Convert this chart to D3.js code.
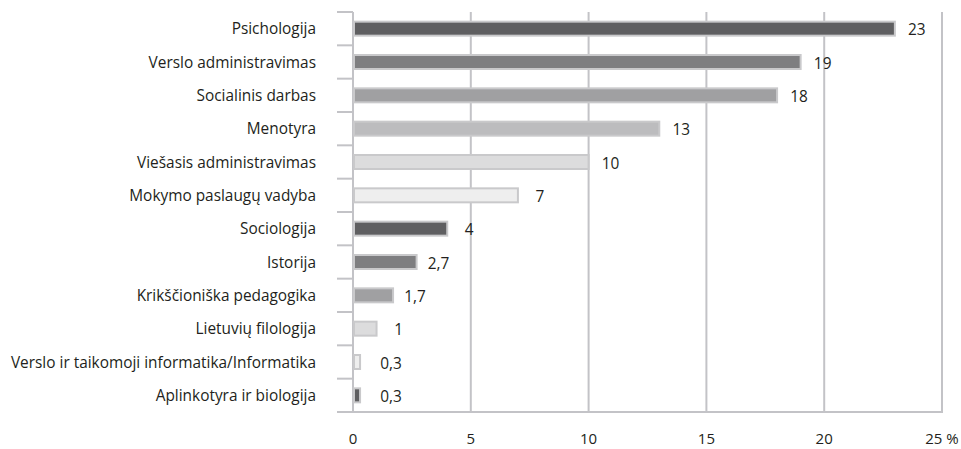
<!DOCTYPE html>
<html><head><meta charset="utf-8">
<script src="https://cdn.jsdelivr.net/npm/d3@7"></script>
<style>body{margin:0;background:#fff}svg{display:block}text{font-family:"Open Sans",sans-serif;fill:#231f20}</style>
</head><body><svg id="c" width="961" height="449"></svg>
<script>
const categories = ["Psichologija","Verslo administravimas","Socialinis darbas","Menotyra","Viešasis administravimas","Mokymo paslaugų vadyba","Sociologija","Istorija","Krikščioniška pedagogika","Lietuvių filologija","Verslo ir taikomoji informatika/Informatika","Aplinkotyra ir biologija"];
const values = [23,19,18,13,10,7,4,2.7,1.7,1,0.3,0.3];
const valueLabels = ["23","19","18","13","10","7","4","2,7","1,7","1","0,3","0,3"];
const barColors = ["#5f5f61","#7e7e80","#a0a0a2","#bcbcbe","#dcdcdd","#eeeeee","#5f5f61","#7e7e80","#a0a0a2","#dcdcdd","#eeeeee","#5f5f61"];
const xTicks = [0,5,10,15,20,25];
const xTickLabels = ["0","5","10","15","20","25 %"];

const svg = d3.select("#c");
const x = d3.scaleLinear().domain([0,25]).range([353,942]);
const y = d3.scaleBand().domain(categories).range([12,412]);
const grid = "#c3c3c7";
const fs = 15.4;

svg.append("g").selectAll("line").data(xTicks.slice(1)).join("line")
  .attr("x1",d=>x(d)).attr("x2",d=>x(d)).attr("y1",12).attr("y2",412)
  .attr("stroke",grid).attr("stroke-width",2);

svg.append("line").attr("x1",x(0)).attr("x2",x(0)).attr("y1",12).attr("y2",412).attr("stroke",grid).attr("stroke-width",2);
const bounds = categories.map(c=>y(c)).concat([412]);
svg.append("g").selectAll("line").data(bounds).join("line")
  .attr("x1",337).attr("x2",x(0)).attr("y1",d=>d).attr("y2",d=>d)
  .attr("stroke",grid).attr("stroke-width",2);
svg.append("line").attr("x1",337).attr("x2",x(25)+1).attr("y1",412).attr("y2",412).attr("stroke",grid).attr("stroke-width",2);

const bh = 14;
svg.append("g").selectAll("rect").data(values).join("rect")
  .attr("x",x(0)+1).attr("y",(d,i)=>y(categories[i])+y.bandwidth()/2-bh/2)
  .attr("width",d=>x(d)-x(0)-1).attr("height",bh)
  .attr("fill",(d,i)=>barColors[i]).attr("stroke","#c9c9cb").attr("stroke-width",2);

svg.append("g").selectAll("text").data(values).join("text")
  .attr("x",d=>Math.max(x(d)+22, x(0)+38)).attr("y",(d,i)=>y(categories[i])+y.bandwidth()/2+1)
  .attr("text-anchor","middle").attr("dominant-baseline","central")
  .attr("font-size",fs).text((d,i)=>valueLabels[i]);

svg.append("g").selectAll("text").data(categories).join("text")
  .attr("x",316).attr("y",d=>y(d)+y.bandwidth()/2)
  .attr("text-anchor","end").attr("dominant-baseline","central")
  .attr("font-size",fs).text(d=>d);

svg.append("g").selectAll("text").data(xTicks).join("text")
  .attr("x",d=>x(d)).attr("y",444).attr("text-anchor","middle")
  .attr("font-size",15).text((d,i)=>xTickLabels[i]);
</script></body></html>
